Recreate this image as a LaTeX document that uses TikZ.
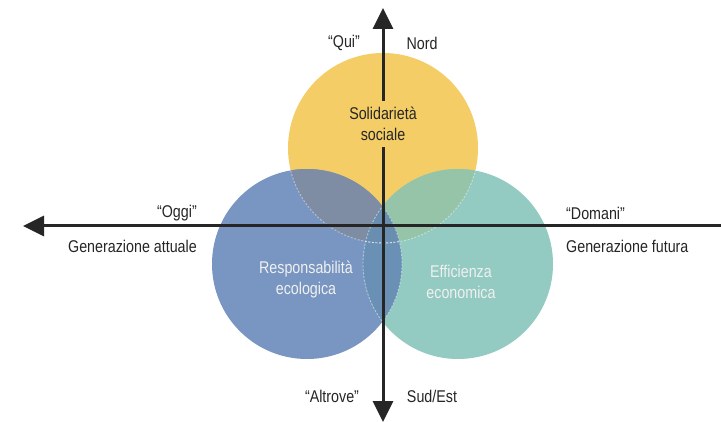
\documentclass[tikz,border=0pt]{standalone}
\usepackage{fontspec}
\setmainfont[FakeStretch=0.84]{Liberation Sans}
\usetikzlibrary{arrows.meta}

\definecolor{cyellow}{HTML}{F4CD66}
\definecolor{cblue}{HTML}{7896C1}
\definecolor{cteal}{HTML}{93CBC3}
\definecolor{cyb}{HTML}{7F8DA4}
\definecolor{cyt}{HTML}{95C4A9}
\definecolor{cbt}{HTML}{6A90B6}
\definecolor{cybt}{HTML}{6A8EB0}
\definecolor{ink}{HTML}{262626}

\begin{document}
\begin{tikzpicture}[x=1pt,y=-1pt,
  lbl/.style={font=\fontsize{17}{19}\selectfont, text=ink, inner sep=0pt},
  inlbl/.style={font=\fontsize{17}{21}\selectfont, align=center, inner sep=0pt},
  axis/.style={line width=3pt, draw=ink, -{Triangle[width=20pt,length=21pt]}},
  seam/.style={draw=white, draw opacity=0.45, line width=0.9pt, dash pattern=on 2pt off 1.6pt}
]
\useasboundingbox (0,0) rectangle (721,422);
\fill[white] (0,0) rectangle (721,422);

% circle centres and radius
\def\R{95}
\coordinate (cy) at (383,148);
\coordinate (cb) at (307,264);
\coordinate (ct) at (458,264);

% base discs
\fill[cyellow] (cy) circle (\R);
\fill[cblue] (cb) circle (\R);
\fill[cteal] (ct) circle (\R);

% pairwise overlaps
\begin{scope}
  \clip (cy) circle (\R);
  \fill[cyb] (cb) circle (\R);
  \fill[cyt] (ct) circle (\R);
\end{scope}
\begin{scope}
  \clip (cb) circle (\R);
  \fill[cbt] (ct) circle (\R);
  \clip (ct) circle (\R);
  \fill[cybt] (cy) circle (\R);
\end{scope}

% light dashed seams inside the overlaps
\begin{scope}
  \clip (cb) circle (\R);
  \draw[seam] (cy) circle (\R);
  \draw[seam] (ct) circle (\R);
\end{scope}
\begin{scope}
  \clip (ct) circle (\R);
  \draw[seam] (cy) circle (\R);
  \draw[seam] (cb) circle (\R);
\end{scope}

% axes
\coordinate (o) at (383,226);
\coordinate (vtop) at (383,8);
\coordinate (vbot) at (383,422);
\coordinate (hleft) at (23,226);
\coordinate (hright) at (721,226);
\draw[axis] (o) -- (vtop);
\draw[axis] (o) -- (vbot);
\draw[line width=3pt, draw=ink] (o) -- (hright);
\draw[axis] (o) -- (hleft);

% circle labels
\node[inlbl, text=ink, fill=cyellow, inner xsep=4pt, inner ysep=6pt] (sol) at (383,124) {Solidarietà\\sociale};
\node[inlbl, text=white!94!black] (resp) at (306,280) {Responsabilità\\ecologica};
\node[inlbl, text=white!94!black] (eff) at (461,282) {Efficienza\\economica};

% axis labels
\node[lbl] (qui) at (344,43) {“Qui”};
\node[lbl] (nord) at (422,43) {Nord};
\node[lbl] (altrove) at (332,396) {“Altrove”};
\node[lbl] (sud) at (432,396) {Sud/Est};
\node[lbl, anchor=east] (oggi) at (197,213) {“Oggi”};
\node[lbl, anchor=east] (gatt) at (197,246) {Generazione attuale};
\node[lbl, anchor=west] (domani) at (566,213) {“Domani”};
\node[lbl, anchor=west] (gfut) at (566,246) {Generazione futura};
\end{tikzpicture}
\end{document}
